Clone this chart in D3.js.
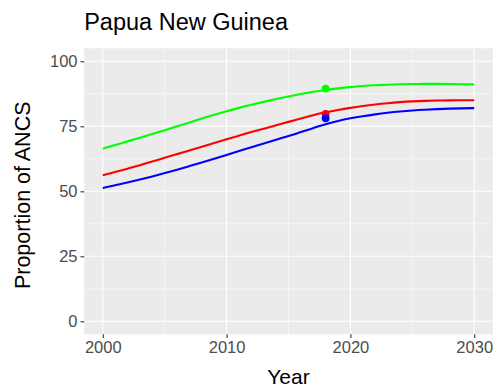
<!DOCTYPE html>
<html><head><meta charset="utf-8">
<script src="https://cdn.jsdelivr.net/npm/d3@7"></script>
<style>body{margin:0;background:#fff}svg{display:block}</style>
</head><body>
<script>
const years = d3.range(2000, 2031);
const green = [66.4,67.8,69.2,70.6,72.0,73.5,75.0,76.5,78.0,79.4,80.8,82.1,83.3,84.4,85.5,86.5,87.4,88.3,89.0,89.6,90.1,90.5,90.8,91.0,91.2,91.3,91.3,91.3,91.3,91.2,91.1];
const red = [56.2,57.4,58.7,60.0,61.4,62.9,64.3,65.7,67.1,68.6,70.0,71.4,72.8,74.1,75.4,76.7,78.0,79.3,80.4,81.3,82.1,82.8,83.4,83.9,84.3,84.6,84.8,84.9,85.0,85.0,85.0];
const blue = [51.3,52.3,53.4,54.5,55.7,57.0,58.3,59.7,61.1,62.5,64.0,65.5,67.0,68.4,69.8,71.2,72.8,74.3,75.8,77.1,78.1,78.9,79.6,80.2,80.7,81.1,81.4,81.6,81.8,81.9,82.0];
const pointYear = 2018;
const pointValues = [89.5, 79.8, 78.1];
const seriesColors = ["#00ff00", "#ff0000", "#0000ff"];
const xTicks = [2000, 2010, 2020, 2030];
const yTicks = [0, 25, 50, 75, 100];
const title = "Papua New Guinea";
const xLabel = "Year";
const yLabel = "Proportion of ANCS";

const W = 498, H = 392;
const L = 84.2, R = 492.8, T = 48.3, B = 334.3;
const svg = d3.select("body").append("svg").attr("width", W).attr("height", H);
const font = "'Liberation Sans', Arial, Helvetica, sans-serif";

const x = d3.scaleLinear().domain([1998.5, 2031.5]).range([L, R]);
const y = d3.scaleLinear().domain([-5, 105]).range([B, T]);

svg.append("rect").attr("x", L).attr("y", T).attr("width", R - L).attr("height", B - T).attr("fill", "#ebebeb");

// minor grid
const xMinor = [2005, 2015, 2025];
const yMinor = [12.5, 37.5, 62.5, 87.5];
svg.selectAll(".xm").data(xMinor).join("line")
  .attr("x1", d => x(d)).attr("x2", d => x(d)).attr("y1", T).attr("y2", B)
  .attr("stroke", "#fff").attr("stroke-width", 0.55);
svg.selectAll(".ym").data(yMinor).join("line")
  .attr("y1", d => y(d)).attr("y2", d => y(d)).attr("x1", L).attr("x2", R)
  .attr("stroke", "#fff").attr("stroke-width", 0.55);
// major grid
svg.selectAll(".xM").data(xTicks).join("line")
  .attr("x1", d => x(d)).attr("x2", d => x(d)).attr("y1", T).attr("y2", B)
  .attr("stroke", "#fff").attr("stroke-width", 1.1);
svg.selectAll(".yM").data(yTicks).join("line")
  .attr("y1", d => y(d)).attr("y2", d => y(d)).attr("x1", L).attr("x2", R)
  .attr("stroke", "#fff").attr("stroke-width", 1.1);

// axes
const xAxis = svg.append("g").attr("transform", `translate(0,${B})`)
  .call(d3.axisBottom(x).tickValues(xTicks).tickFormat(d3.format("d")).tickSize(3.7).tickPadding(3));
const yAxis = svg.append("g").attr("transform", `translate(${L},0)`)
  .call(d3.axisLeft(y).tickValues(yTicks).tickSize(3.7).tickPadding(3));
[xAxis, yAxis].forEach(a => {
  a.select(".domain").remove();
  a.selectAll(".tick line").attr("stroke", "#333").attr("stroke-width", 1.1);
  a.selectAll(".tick text").attr("fill", "#4d4d4d").style("font-family", font).style("font-size", "16.5px");
});

// lines
const line = d3.line().x((d, i) => x(years[i])).y(d => y(d)).curve(d3.curveBasis);
[green, red, blue].forEach((s, i) => {
  svg.append("path").datum(s).attr("d", line).attr("fill", "none")
    .attr("stroke", seriesColors[i]).attr("stroke-width", 2.1);
});
pointValues.forEach((v, i) => {
  svg.append("circle").attr("cx", x(pointYear)).attr("cy", y(v)).attr("r", 3.9).attr("fill", seriesColors[i]);
});

// texts
svg.append("text").attr("x", L).attr("y", 30).text(title)
  .style("font-family", font).style("font-size", "23.5px").attr("fill", "#000");
svg.append("text").attr("x", (L + R) / 2).attr("y", 384).attr("text-anchor", "middle").text(xLabel)
  .style("font-family", font).style("font-size", "21px").attr("fill", "#000");
svg.append("text").attr("transform", `translate(30,${(T + B) / 2 + 4}) rotate(-90)`).attr("text-anchor", "middle").text(yLabel)
  .style("font-family", font).style("font-size", "21.5px").attr("fill", "#000");
</script>
</body></html>
